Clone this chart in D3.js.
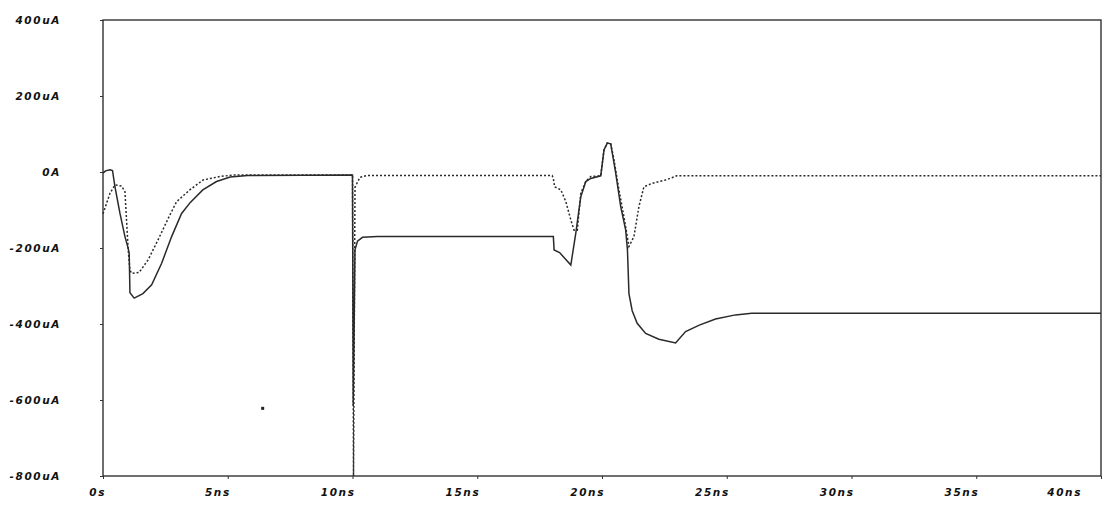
<!DOCTYPE html>
<html>
<head>
<meta charset="utf-8">
<script src="https://cdn.jsdelivr.net/npm/d3@7.9.0/dist/d3.min.js"></script>
<style>
  body { margin: 0; background: #fff; }
  .lbl { font-family: "DejaVu Sans", sans-serif; font-weight: bold; font-style: italic; font-size: 10.5px; letter-spacing: 1.6px; fill: #111; }
</style>
</head>
<body>
<svg id="chart"></svg>
<script>
// Axis ticks (time in ns, current in uA)
const timeTicks = [0, 5, 10, 15, 20, 25, 30, 35, 40];
const timeLabels = ["0s", "5ns", "10ns", "15ns", "20ns", "25ns", "30ns", "35ns", "40ns"];
const currentTicks = [400, 200, 0, -200, -400, -600, -800];
const currentLabels = ["400uA", "200uA", "0A", "-200uA", "-400uA", "-600uA", "-800uA"];

// Solid trace [time ns, current uA]
const solidTrace = [
  [0.0, -3], [0.1, 3], [0.28, 6], [0.38, 4], [0.48, -39], [0.68, -109], [0.88, -170],
  [1.01, -201], [1.05, -215], [1.08, -318], [1.25, -332], [1.6, -320], [1.95, -297],
  [2.35, -240], [2.75, -170], [3.15, -109], [3.5, -80], [4.0, -47], [4.55, -25],
  [5.1, -13], [5.8, -9], [10.0, -8], [10.03, -615], [10.1, -205], [10.2, -182],
  [10.4, -172], [11.0, -170], [18.05, -170], [18.08, -205], [18.3, -212], [18.75, -245],
  [18.95, -161], [19.15, -65], [19.35, -25], [19.55, -17], [19.95, -10], [20.08, 58],
  [20.21, 76], [20.35, 74], [20.55, -3], [20.75, -91], [20.95, -153], [21.02, -205],
  [21.08, -320], [21.21, -365], [21.41, -398], [21.75, -425], [22.28, -440], [22.95, -450],
  [23.35, -420], [23.9, -403], [24.55, -387], [25.35, -376], [26.0, -372], [40.0, -372]
];

// Dotted trace [time ns, current uA]
const dottedTrace = [
  [0.0, -110], [0.28, -56], [0.48, -34], [0.75, -37], [0.88, -52], [1.01, -205],
  [1.08, -258], [1.15, -267], [1.45, -264], [1.81, -231], [2.21, -178], [2.68, -113],
  [2.95, -78], [3.48, -47], [4.01, -21], [4.68, -12], [5.2, -8], [10.0, -8],
  [10.04, -800], [10.1, -40], [10.3, -14], [10.6, -9], [18.0, -9], [18.05, -17],
  [18.1, -39], [18.35, -47], [18.55, -78], [18.75, -126], [18.88, -153], [19.01, -153],
  [19.15, -56], [19.35, -25], [19.55, -12], [19.95, -10], [20.08, 58], [20.21, 76],
  [20.35, 74], [20.48, 32], [20.68, -47], [20.88, -118], [21.08, -196], [21.28, -170],
  [21.48, -91], [21.68, -39], [22.0, -30], [22.55, -21], [23.0, -10], [40.0, -10]
];

// stray speck in the scan
const scanSpecks = [[6.4, -622]];

const W = 1104, H = 517;
const margin = { top: 20, right: 3, bottom: 41, left: 103 };

const svg = d3.select("#chart").attr("width", W).attr("height", H);
svg.append("rect").attr("width", W).attr("height", H).attr("fill", "#fff");

const x = d3.scaleLinear().domain([0, 40]).range([margin.left, W - margin.right]);
const y = d3.scaleLinear().domain([-800, 400]).range([H - margin.bottom, margin.top]);

// frame
svg.append("rect")
  .attr("x", x(0)).attr("y", y(400))
  .attr("width", x(40) - x(0)).attr("height", y(-800) - y(400))
  .attr("fill", "none").attr("stroke", "#222").attr("stroke-width", 1.3);

// y axis
const yAxis = svg.append("g")
  .attr("transform", `translate(${x(0)},0)`)
  .call(d3.axisLeft(y).tickValues(currentTicks).tickSize(3).tickFormat(""));
yAxis.select(".domain").remove();
yAxis.selectAll("line").attr("stroke", "#333");

svg.selectAll(".ylbl")
  .data(currentTicks)
  .join("text")
  .attr("class", "lbl ylbl")
  .attr("x", 61)
  .attr("y", d => y(d))
  .attr("dy", "0.35em")
  .attr("text-anchor", "end")
  .text((d, i) => currentLabels[i]);

// x axis
const xAxis = svg.append("g")
  .attr("transform", `translate(0,${y(-800)})`)
  .call(d3.axisBottom(x).tickValues(timeTicks).tickSize(3).tickFormat(""));
xAxis.select(".domain").remove();
xAxis.selectAll("line").attr("stroke", "#333");

svg.selectAll(".xlbl")
  .data(timeTicks)
  .join("text")
  .attr("class", "lbl xlbl")
  .attr("x", d => Math.min(x(d) + 3, W - 22))
  .attr("y", H - 21)
  .attr("text-anchor", "end")
  .text((d, i) => timeLabels[i]);

// traces
const line = d3.line()
  .x(d => x(d[0]))
  .y(d => y(d[1]));

const plot = svg.append("g");

plot.append("path")
  .datum(solidTrace)
  .attr("d", line)
  .attr("fill", "none")
  .attr("stroke", "#2a2a2a")
  .attr("stroke-width", 1.5);

plot.append("path")
  .datum(dottedTrace)
  .attr("d", line)
  .attr("fill", "none")
  .attr("stroke", "#2a2a2a")
  .attr("stroke-width", 1.5)
  .attr("stroke-dasharray", "2,2");

plot.selectAll(".speck")
  .data(scanSpecks)
  .join("rect")
  .attr("class", "speck")
  .attr("x", d => x(d[0]) - 1.5)
  .attr("y", d => y(d[1]) - 1.5)
  .attr("width", 3)
  .attr("height", 3)
  .attr("fill", "#222");
</script>
</body>
</html>
